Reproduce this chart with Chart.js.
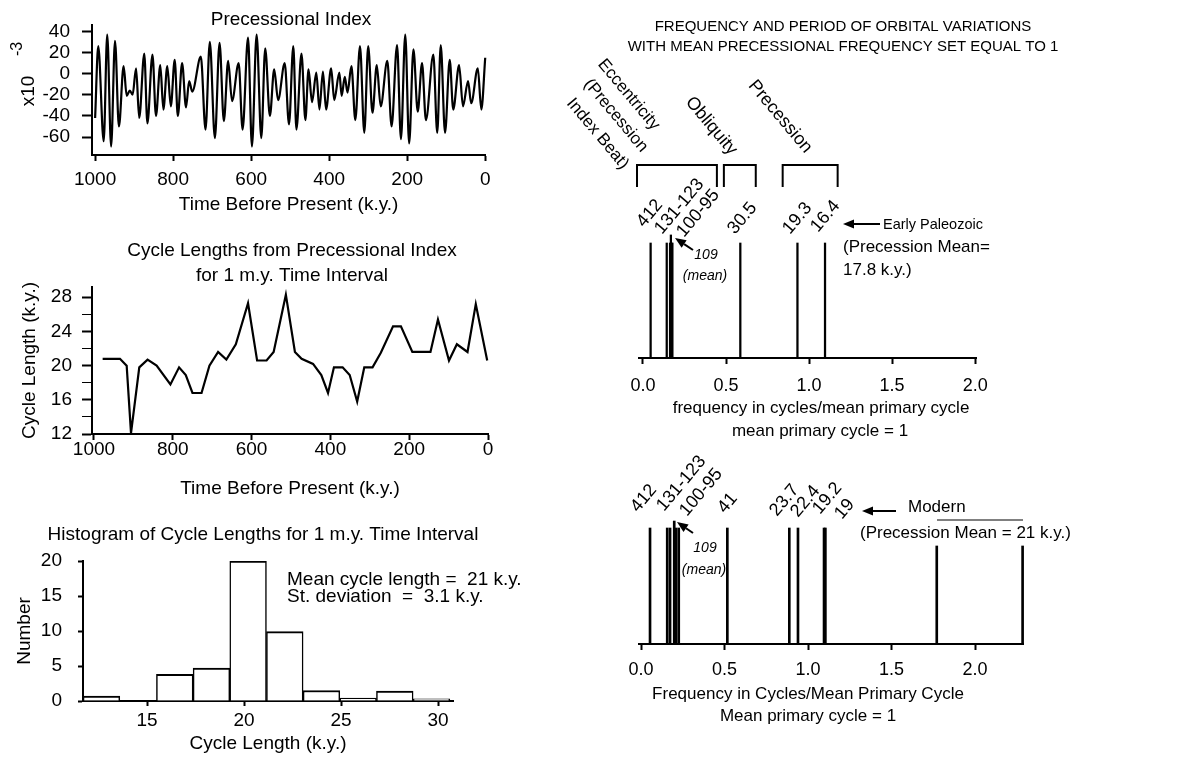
<!DOCTYPE html>
<html>
<head>
<meta charset="utf-8">
<script src="https://cdn.jsdelivr.net/npm/chart.js"></script>
<style>
  body { margin: 0; background: #fff; }
  #page { position: relative; width: 1178px; height: 759px; overflow: hidden; background: #fff; }
  canvas { position: absolute; }
</style>
</head>
<body>
<div id="page">
  <canvas id="precChart" width="500" height="220" style="left:0px;top:0px"></canvas>
  <canvas id="cycleChart" width="500" height="275" style="left:0px;top:225px"></canvas>
  <canvas id="histChart" width="560" height="254" style="left:0px;top:505px"></canvas>
  <canvas id="paleoChart" width="618" height="450" style="left:560px;top:0px"></canvas>
  <canvas id="modernChart" width="618" height="304" style="left:560px;top:455px"></canvas>
</div>
<script>
//#region data

// precessional index, extrema (k.y. before present, x10^-3)
const precTime = [1000, 992, 978, 969, 959, 949, 939, 927, 919, 911, 904, 895, 887, 874, 866, 853, 844, 833, 825, 815,
  806, 796, 788, 777, 767, 759, 751, 729, 717, 706, 693, 681, 670, 659, 649, 632, 622, 608, 598, 586,
  574, 564, 552, 541, 531, 514, 503, 492, 484, 471, 461, 453, 444, 433, 425, 416, 408, 395, 387, 374,
  368, 360, 353, 343, 333, 321, 310, 300, 289, 278, 268, 251, 240, 226, 216, 205, 195, 184, 173, 162,
  152, 133, 123, 114, 103, 91, 82, 67, 57, 44, 36, 19, 10, 0];
const precIndex = [-42, 26, -64, 37, -69, 31, -50, 7, -21, -16, -20, 5, -42, 19, -47, 18, -40, 8, -34, 7,
  -31, 13, -40, 10, -32, -7, -17, 16, -53, 30, -61, 29, -45, 12, -26, 10, -53, 34, -69, 37,
  -61, 24, -40, 4, -25, 10, -48, 26, -53, 19, -44, 4, -27, 1, -34, 2, -34, 5, -25, 1,
  -21, -3, -18, 7, -44, 26, -56, 26, -37, 8, -31, 12, -50, 27, -62, 37, -66, 23, -36, 10,
  -44, 18, -56, 27, -56, 13, -34, 8, -31, -7, -28, 5, -34, 15];
const precXTicks = [1000, 800, 600, 400, 200, 0];
const precYTicks = [40, 20, 0, -20, -40, -60];

// cycle lengths
const cycleTime = [978, 934, 917, 906, 885, 864, 841, 806, 784, 767, 750, 727, 707, 685, 664, 640, 609, 586, 562, 544,
  513, 490, 473, 444, 423, 406, 391, 369, 351, 332, 314, 293, 272, 241, 221, 192, 146, 127, 99, 79,
  52, 31, 2];
const cycleLen = [20.8, 20.8, 20.0, 12.1, 19.8, 20.7, 20.0, 17.8, 19.8, 18.9, 16.8, 16.8, 20.0, 21.6, 20.7, 22.5, 27.3, 20.6, 20.6, 21.6,
  28.3, 21.6, 20.8, 20.2, 18.9, 16.8, 19.8, 19.8, 18.9, 15.8, 19.8, 19.8, 21.5, 24.6, 24.6, 21.6, 21.6, 25.4, 20.6, 22.5,
  21.6, 27.2, 20.6];
const cycleYTicks = [12, 14, 16, 18, 20, 22, 24, 26, 28];

// histogram
const histCenter = [12.65, 14.54, 16.43, 18.32, 20.21, 22.10, 23.99, 25.88, 27.77, 29.66];
const histCount = [0.7, 0, 3.8, 4.7, 20, 9.9, 1.5, 0.4, 1.4, 0.3];
const histXTicks = [15, 20, 25, 30];
const histYTicks = [0, 5, 10, 15, 20];

// frequency spectra (cycles / mean primary cycle)
const freqTicks = [0, 0.5, 1.0, 1.5, 2.0];
const paleoFreq = [0.046, 0.143, 0.163, 0.168, 0.172, 0.177, 0.586, 0.930, 1.096];
const paleoHeight = [1, 1, 1, 1.07, 1, 1, 1, 1, 1];
const modernFreq = [0.054, 0.157, 0.174, 0.199, 0.210, 0.226, 0.517, 0.888, 0.940, 1.096, 1.104, 1.771, 2.285];
const modernHeight = [1, 1, 1, 1.06, 1, 1, 1, 1, 1, 1, 1, 0.845, 0.845];
// bracket ranges for eccentricity, obliquity, precession
const groupFrom = [-0.036, 0.487, 0.841];
const groupTo = [0.445, 0.679, 1.172];

//#endregion

const FONT = '"Liberation Sans", Arial, Helvetica, sans-serif';
Chart.defaults.font.family = FONT;
Chart.defaults.color = '#000';

// free text, arrows and brackets, given in page pixels
function notes(items) {
  return {
    id: 'notes',
    afterDraw(chart) {
      const ctx = chart.ctx;
      const ox = chart.canvas.offsetLeft, oy = chart.canvas.offsetTop;
      const xs = chart.scales.x;
      ctx.save();
      ctx.translate(-ox, -oy);
      ctx.fillStyle = '#000';
      ctx.strokeStyle = '#000';
      items.forEach(n => {
        if (n.text !== undefined) {
          ctx.save();
          ctx.font = (n.italic ? 'italic ' : '') + (n.size || 19) + 'px ' + FONT;
          ctx.textAlign = n.align || 'center';
          ctx.textBaseline = n.base || 'middle';
          ctx.translate(n.x, n.y);
          if (n.rot) ctx.rotate(n.rot * Math.PI / 180);
          ctx.fillText(n.text, 0, 0);
          ctx.restore();
        } else if (n.arrow) {
          const [x1, y1, x2, y2] = n.arrow;
          const a = Math.atan2(y2 - y1, x2 - x1);
          const hl = 11, hw = 4.5;
          const bx = x2 - hl * Math.cos(a), by = y2 - hl * Math.sin(a);
          ctx.lineWidth = 2;
          ctx.beginPath();
          ctx.moveTo(x1, y1);
          ctx.lineTo(bx, by);
          ctx.stroke();
          ctx.beginPath();
          ctx.moveTo(x2, y2);
          ctx.lineTo(bx + hw * Math.sin(a), by - hw * Math.cos(a));
          ctx.lineTo(bx - hw * Math.sin(a), by + hw * Math.cos(a));
          ctx.closePath();
          ctx.fill();
        } else if (n.bracket) {
          const a = xs.getPixelForValue(n.bracket[0]) + ox;
          const b = xs.getPixelForValue(n.bracket[1]) + ox;
          ctx.lineWidth = 2;
          ctx.beginPath();
          ctx.moveTo(a, n.foot);
          ctx.lineTo(a, n.top);
          ctx.lineTo(b, n.top);
          ctx.lineTo(b, n.foot);
          ctx.stroke();
        } else if (n.line) {
          ctx.lineWidth = n.width || 1;
          ctx.beginPath();
          ctx.moveTo(n.line[0], n.line[1]);
          ctx.lineTo(n.line[2], n.line[3]);
          ctx.stroke();
        }
      });
      ctx.restore();
    }
  };
}

const noLegend = { legend: { display: false }, tooltip: { enabled: false } };
const plainNumber = v => String(v);

//#region precessional index
new Chart(document.getElementById('precChart'), {
  type: 'line',
  data: {
    datasets: [{
      data: precTime.map((t, i) => ({ x: t, y: precIndex[i] })),
      borderColor: '#000',
      borderWidth: 2.2,
      pointRadius: 0,
      cubicInterpolationMode: 'monotone',
      clip: 3
    }]
  },
  options: {
    responsive: false,
    animation: false,
    layout: { padding: { left: 0, right: 11, top: 25, bottom: 0 } },
    plugins: noLegend,
    scales: {
      x: {
        type: 'linear', reverse: true, min: 0, max: 1008,
        afterBuildTicks: s => { s.ticks = precXTicks.map(v => ({ value: v })); },
        afterFit: s => { s.height = 65; },
        grid: { drawOnChartArea: false, tickLength: 6, tickWidth: 2, tickColor: '#000' },
        border: { color: '#000', width: 2 },
        ticks: { padding: 9.5, maxRotation: 0, autoSkip: false, font: { size: 19, lineHeight: 1 }, callback: plainNumber },
        title: { display: true, text: 'Time Before Present (k.y.)', font: { size: 19, lineHeight: 1 }, padding: { top: 0, bottom: 6 } }
      },
      y: {
        min: -77, max: 46,
        afterBuildTicks: s => { s.ticks = precYTicks.map(v => ({ value: v })); },
        afterFit: s => { s.width = 92; },
        grid: { drawOnChartArea: false, tickLength: 10, tickWidth: 2, tickColor: '#000' },
        border: { color: '#000', width: 2 },
        ticks: { padding: 12, autoSkip: false, font: { size: 19, lineHeight: 1 }, callback: plainNumber }
      }
    }
  },
  plugins: [notes([
    { text: 'Precessional Index', x: 291, y: 20 },
    { text: 'x10', x: 29, y: 91, rot: -90 },
    { text: '-3', x: 18, y: 49, rot: -90, size: 16 }
  ])]
});
//#endregion

//#region cycle lengths
new Chart(document.getElementById('cycleChart'), {
  type: 'line',
  data: {
    datasets: [{
      data: cycleTime.map((t, i) => ({ x: t, y: cycleLen[i] })),
      borderColor: '#000',
      borderWidth: 2.2,
      pointRadius: 0,
      tension: 0,
      clip: 4
    }]
  },
  options: {
    responsive: false,
    animation: false,
    layout: { padding: { left: 0, right: 12, top: 62, bottom: 0 } },
    plugins: noLegend,
    scales: {
      x: {
        type: 'linear', reverse: true, min: 0, max: 1005,
        afterBuildTicks: s => { s.ticks = precXTicks.map(v => ({ value: v })); },
        afterFit: s => { s.height = 66; },
        grid: { drawOnChartArea: false, tickLength: 6, tickWidth: 2, tickColor: '#000' },
        border: { color: '#000', width: 2 },
        ticks: { padding: 0.5, maxRotation: 0, autoSkip: false, font: { size: 19, lineHeight: 1 }, callback: plainNumber },
        title: { display: true, text: 'Time Before Present (k.y.)', font: { size: 19, lineHeight: 1 }, padding: { top: 0, bottom: 2 } }
      },
      y: {
        min: 12, max: 29.2,
        afterBuildTicks: s => { s.ticks = cycleYTicks.map(v => ({ value: v })); },
        afterFit: s => { s.width = 92; },
        grid: {
          drawOnChartArea: false, tickLength: 10, tickColor: '#000',
          tickWidth: c => (c.tick && c.tick.value % 4 === 0 ? 2 : 1)
        },
        border: { color: '#000', width: 2 },
        ticks: {
          padding: 10, autoSkip: false, font: { size: 19, lineHeight: 1 },
          callback: v => (v % 4 === 0 ? String(v) : '')
        },
        title: { display: true, text: 'Cycle Length (k.y.)', font: { size: 19, lineHeight: 1 }, padding: { top: 20.5, bottom: 0 } }
      }
    }
  },
  plugins: [notes([
    { text: 'Cycle Lengths from Precessional Index', x: 292, y: 251 },
    { text: 'for 1 m.y. Time Interval', x: 292, y: 276 }
  ])]
});
//#endregion

//#region histogram
new Chart(document.getElementById('histChart'), {
  type: 'bar',
  data: {
    datasets: [{
      data: histCenter.map((c, i) => ({ x: c, y: histCount[i] })),
      backgroundColor: '#fff',
      borderColor: '#000',
      borderWidth: { top: 2, left: 1.5, right: 1.5, bottom: 0 },
      borderSkipped: false,
      barPercentage: 1,
      categoryPercentage: 1
    }]
  },
  options: {
    responsive: false,
    animation: false,
    layout: { padding: { left: 0, right: 107, top: 56, bottom: 0 } },
    plugins: noLegend,
    scales: {
      x: {
        type: 'linear', min: 11.7, max: 30.77, offset: false,
        afterBuildTicks: s => { s.ticks = histXTicks.map(v => ({ value: v })); },
        afterFit: s => { s.height = 58; },
        grid: { drawOnChartArea: false, offset: false, tickLength: 5, tickWidth: 2, tickColor: '#000' },
        border: { color: '#000', width: 2 },
        ticks: { padding: 5.5, maxRotation: 0, autoSkip: false, font: { size: 19, lineHeight: 1 }, callback: plainNumber },
        title: { display: true, text: 'Cycle Length (k.y.)', font: { size: 19, lineHeight: 1 }, padding: { top: 0, bottom: 6 } }
      },
      y: {
        min: 0, max: 20,
        afterBuildTicks: s => { s.ticks = histYTicks.map(v => ({ value: v })); },
        afterFit: s => { s.width = 83; },
        grid: { drawOnChartArea: false, tickLength: 5, tickWidth: 2, tickColor: '#000' },
        border: { color: '#000', width: 2 },
        ticks: { padding: 16, autoSkip: false, font: { size: 19, lineHeight: 1 }, callback: plainNumber },
        title: { display: true, text: 'Number', font: { size: 19, lineHeight: 1 }, padding: { top: 15.5, bottom: 0 } }
      }
    }
  },
  plugins: [notes([
    { text: 'Histogram of Cycle Lengths for 1 m.y. Time Interval', x: 263, y: 535 },
    { text: 'Mean cycle length =  21 k.y.', x: 287, y: 580, align: 'left' },
    { text: 'St. deviation  =  3.1 k.y.', x: 287, y: 597, align: 'left' }
  ])]
});
//#endregion

//#region frequency spectra
function spectrumScales(xmax, pad) {
  return {
    x: {
      type: 'linear', min: -0.024, max: xmax, offset: false,
      afterBuildTicks: s => { s.ticks = freqTicks.map(v => ({ value: v })); },
      grid: { drawOnChartArea: false, offset: false, tickLength: 6, tickWidth: 2, tickColor: '#000' },
      border: { color: '#000', width: 2 },
      ticks: { padding: pad, maxRotation: 0, autoSkip: false, font: { size: 18, lineHeight: 1 }, callback: v => v.toFixed(1) }
    },
    y: { display: false, min: 0, max: 1 }
  };
}

const paleoScales = spectrumScales(2.005, 13.5);
paleoScales.x.afterFit = s => { s.height = 92; };
const paleoGroups = groupFrom.map((f, i) => ({ bracket: [f, groupTo[i]], top: 165, foot: 187 }));

new Chart(document.getElementById('paleoChart'), {
  type: 'bar',
  data: {
    datasets: [{
      data: paleoFreq.map((f, i) => ({ x: f, y: paleoHeight[i] })),
      backgroundColor: '#000',
      barThickness: 1.6,
      clip: false
    }]
  },
  options: {
    responsive: false,
    animation: false,
    layout: { padding: { left: 79, right: 202, top: 243, bottom: 0 } },
    plugins: noLegend,
    scales: paleoScales
  },
  plugins: [notes(paleoGroups.concat([
    { text: 'FREQUENCY AND PERIOD OF ORBITAL VARIATIONS', x: 843, y: 27, size: 15 },
    { text: 'WITH MEAN PRECESSIONAL FREQUENCY SET EQUAL TO 1', x: 843, y: 47, size: 15 },
    { text: 'Eccentricity', x: 653, y: 131, rot: 50, align: 'right', base: 'alphabetic', size: 17 },
    { text: '(Precession', x: 641, y: 153, rot: 50, align: 'right', base: 'alphabetic', size: 17 },
    { text: 'Index Beat)', x: 622, y: 170, rot: 50, align: 'right', base: 'alphabetic', size: 17 },
    { text: 'Obliquity', x: 730, y: 156, rot: 50, align: 'right', base: 'alphabetic', size: 18 },
    { text: 'Precession', x: 805, y: 154, rot: 50, align: 'right', base: 'alphabetic', size: 18 },
    { text: '412', x: 644, y: 228, rot: -50, align: 'left', base: 'alphabetic', size: 18 },
    { text: '131-123', x: 662, y: 235, rot: -50, align: 'left', base: 'alphabetic', size: 18 },
    { text: '100-95', x: 684, y: 238, rot: -50, align: 'left', base: 'alphabetic', size: 18 },
    { text: '30.5', x: 735, y: 235, rot: -50, align: 'left', base: 'alphabetic', size: 18 },
    { text: '19.3', x: 790, y: 235, rot: -50, align: 'left', base: 'alphabetic', size: 18 },
    { text: '16.4', x: 818, y: 233, rot: -50, align: 'left', base: 'alphabetic', size: 18 },
    { arrow: [880, 224, 843, 224] },
    { text: 'Early Paleozoic', x: 883, y: 225, align: 'left', size: 14.5 },
    { text: '(Precession Mean=', x: 843, y: 247, align: 'left', size: 17 },
    { text: '17.8 k.y.)', x: 843, y: 270, align: 'left', size: 17 },
    { text: '109', x: 706, y: 255, italic: true, size: 14 },
    { text: '(mean)', x: 705, y: 276, italic: true, size: 14 },
    { arrow: [693, 250, 675, 238] },
    { text: 'frequency in cycles/mean primary cycle', x: 821, y: 408, size: 17 },
    { text: 'mean primary cycle = 1', x: 820, y: 431, size: 17 }
  ]))]
});

const modernScales = spectrumScales(2.2874, 11.5);
modernScales.x.min = -0.012;
modernScales.x.afterFit = s => { s.height = 115; };

new Chart(document.getElementById('modernChart'), {
  type: 'bar',
  data: {
    datasets: [{
      data: modernFreq.map((f, i) => ({ x: f, y: modernHeight[i] })),
      backgroundColor: '#000',
      barThickness: 2,
      clip: false
    }]
  },
  options: {
    responsive: false,
    animation: false,
    layout: { padding: { left: 79, right: 155, top: 73, bottom: 0 } },
    plugins: noLegend,
    scales: modernScales
  },
  plugins: [notes([
    { text: '412', x: 638, y: 513, rot: -50, align: 'left', base: 'alphabetic', size: 18 },
    { text: '131-123', x: 664, y: 512, rot: -50, align: 'left', base: 'alphabetic', size: 18 },
    { text: '100-95', x: 687, y: 517, rot: -50, align: 'left', base: 'alphabetic', size: 18 },
    { text: '41', x: 725, y: 514, rot: -50, align: 'left', base: 'alphabetic', size: 18 },
    { text: '23.7', x: 777, y: 517, rot: -50, align: 'left', base: 'alphabetic', size: 18 },
    { text: '22.4', x: 798, y: 518, rot: -50, align: 'left', base: 'alphabetic', size: 18 },
    { text: '19.2', x: 820, y: 515, rot: -50, align: 'left', base: 'alphabetic', size: 18 },
    { text: '19', x: 842, y: 520, rot: -50, align: 'left', base: 'alphabetic', size: 18 },
    { arrow: [896, 511, 862, 511] },
    { text: 'Modern', x: 908, y: 507, align: 'left', size: 17 },
    { line: [937, 520, 1023, 520], width: 1 },
    { text: '(Precession Mean = 21 k.y.)', x: 860, y: 533, align: 'left', size: 17 },
    { text: '109', x: 705, y: 548, italic: true, size: 14 },
    { text: '(mean)', x: 704, y: 570, italic: true, size: 14 },
    { arrow: [693, 533, 677, 522] },
    { text: 'Frequency in Cycles/Mean Primary Cycle', x: 808, y: 694, size: 17 },
    { text: 'Mean primary cycle = 1', x: 808, y: 716, size: 17 }
  ])]
});
//#endregion
</script>
</body>
</html>
